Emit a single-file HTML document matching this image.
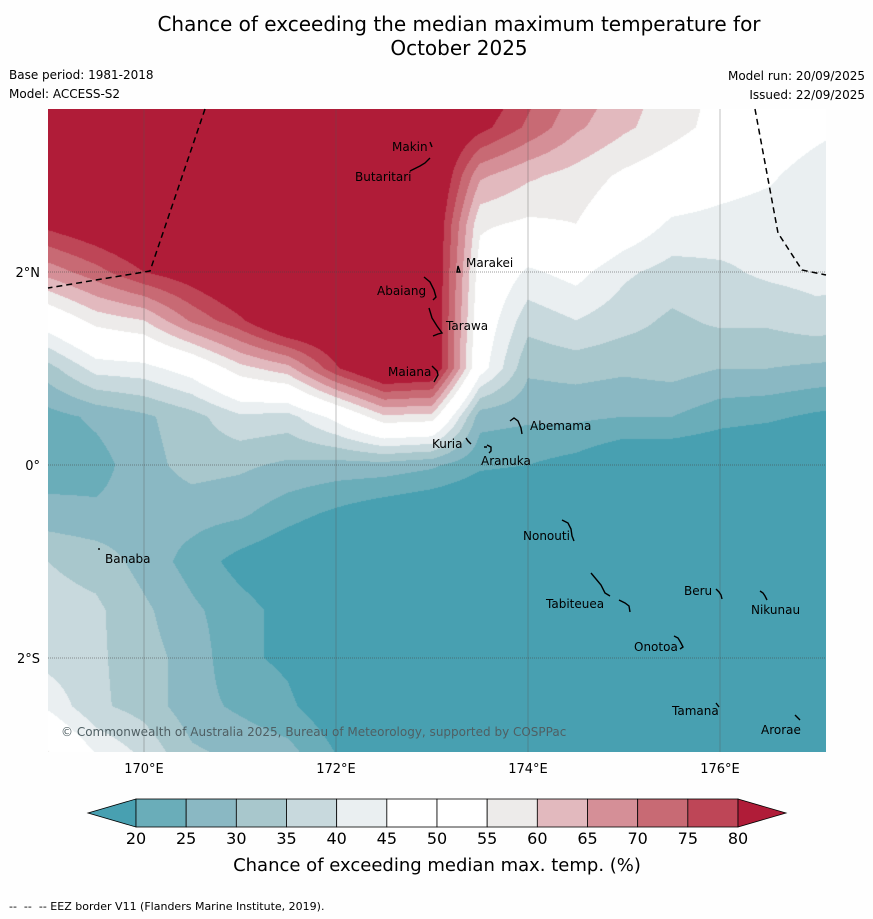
<!DOCTYPE html>
<html><head><meta charset="utf-8">
<style>
body{margin:0;background:#fefefe;width:873px;height:919px;overflow:hidden;font-family:"DejaVu Sans","Liberation Sans",sans-serif;position:relative}
.t{position:absolute;white-space:nowrap;color:#000}
#map{position:absolute;left:48px;top:109px;width:778px;height:643px}
#ov{position:absolute;left:0;top:0}
</style></head><body>
<div class="t" style="left:0;width:918px;text-align:center;top:12px;font-size:20px;line-height:24px">Chance of exceeding the median maximum temperature for<br>October 2025</div>
<div class="t" style="left:9px;top:68px;font-size:12px">Base period: 1981-2018</div>
<div class="t" style="left:9px;top:87px;font-size:12px">Model: ACCESS-S2</div>
<div class="t" style="right:8px;top:69px;font-size:12px">Model run: 20/09/2025</div>
<div class="t" style="right:8px;top:88px;font-size:12px">Issued: 22/09/2025</div>
<canvas id="map" width="778" height="643"></canvas>
<svg id="ov" width="873" height="919"></svg>
<div class="t" style="left:9px;top:900px;font-size:11px">--&nbsp; --&nbsp; -- EEZ border V11 (Flanders Marine Institute, 2019).</div>
<script>
const lons=[169,169.5,170,170.5,171,171.5,172,172.5,173,173.5,174,174.5,175,175.5,176,176.5,177,177.5];
const lats=[4,3.5,3,2.5,2,1.5,1,0.5,0,-0.5,-1,-1.5,-2,-2.5,-3];
const rowN40=[90,90,90,90,90,90,90,90,90,88,78,70,63,58,54,52,49,46];
const rowN35=[90,90,90,90,90,90,90,90,90,82,74,66,61,57,53,50,47,44];
const rowN30=[90,90,90,90,90,90,90,90,90,66,61,58,54,51,48,46,42,39];
const rowN25=[82,86,90,90,90,90,90,90,88,56,54,55,50,44,43,42,42,42];
const rowN20=[67,73,80,84,90,90,90,90,88,52,44,47,41,38,39,41,42,42];
const rowN15=[49,57,60,71,79,90,90,90,88,50,37,40,37,34,36,36,38,37];
const rowN10=[33,42,43,48,58,63,79,90,88,48,31,32,31,32,30,30,29,28];
const rowN05=[23,26,29,33,39,38,47,59,58,27,26,26,25,25,22,21,19,18];
const rowEq=[22,23,28,32,31,29,28,28,26,21,20,18,14,14,14,13,12,12];
const rowS05=[27,26,27,27,26,22,19,16,14,13,12,12,12,12,12,12,12,12];
const rowS10=[35,33,28,23,18,15,12,12,12,12,12,12,12,12,12,12,12,12];
const rowS15=[37,36,31,26,22,18,12,12,12,12,12,12,12,12,12,12,12,12];
const rowS20=[38,36,32,28,21,19,14,12,12,12,12,12,12,12,12,12,12,12];
const rowS25=[44,36,33,27,24,21,16,12,12,12,12,12,12,12,12,12,12,12];
const rowS30=[56,45,39,31,29,27,20,13,12,12,12,12,12,12,12,12,12,12];
const grid=[rowN40,rowN35,rowN30,rowN25,rowN20,rowN15,rowN10,rowN05,rowEq,rowS05,rowS10,rowS15,rowS20,rowS25,rowS30];
const levels=[20,25,30,35,40,45,50,55,60,65,70,75,80];
const bandColors=["#48a0b1","#6aadb9","#8ab8c3","#a8c7cc","#c8d9dd","#eaeff1","#ffffff","#ffffff","#edebea","#e2b9be","#d58f97","#c86a74","#be4657","#b01c38"];
const lonTicks=[170,172,174,176];
const latTicks=[2,0,-2];
const latTickLabels=["2°N","0°","2°S"];
const islands=["Makin","Butaritari","Marakei","Abaiang","Tarawa","Maiana","Abemama","Kuria","Aranuka","Banaba","Nonouti","Beru","Tabiteuea","Nikunau","Onotoa","Tamana","Arorae"];

function xOf(lon){return 144+(lon-170)*96;}
function yOf(lat){return 465-lat*96.5;}
function hexRgb(h){return [parseInt(h.substr(1,2),16),parseInt(h.substr(3,2),16),parseInt(h.substr(5,2),16)];}
const rgbs=bandColors.map(hexRgb);
function valueAt(lon,lat){
  let fi=(lon-lons[0])/(lons[1]-lons[0]), fj=(lats[0]-lat)/(lats[0]-lats[1]);
  fi=Math.max(0,Math.min(lons.length-1.0001,fi)); fj=Math.max(0,Math.min(lats.length-1.0001,fj));
  const i=Math.floor(fi),j=Math.floor(fj),a=fi-i,b=fj-j;
  return grid[j][i]*(1-a)*(1-b)+grid[j][i+1]*a*(1-b)+grid[j+1][i]*(1-a)*b+grid[j+1][i+1]*a*b;
}
function band(v){let k=0;while(k<levels.length&&v>=levels[k])k++;return k;}
const cv=document.getElementById('map'),ctx=cv.getContext('2d');
const img=ctx.createImageData(778,643);
for(let py=0;py<643;py++){const lat=(465-(py+109.5))/96.5;
 for(let px=0;px<778;px++){const lon=170+(px+48.5-144)/96;
  const c=rgbs[band(valueAt(lon,lat))];const o=(py*778+px)*4;
  img.data[o]=c[0];img.data[o+1]=c[1];img.data[o+2]=c[2];img.data[o+3]=255;}}
ctx.putImageData(img,0,0);

const NS="http://www.w3.org/2000/svg";const ov=document.getElementById('ov');
function mk(tag,at,parent){const e=document.createElementNS(NS,tag);for(const k in at)e.setAttribute(k,at[k]);(parent||ov).appendChild(e);return e;}
lonTicks.forEach(function(l){
 const g=mk('line',{x1:xOf(l),x2:xOf(l),y1:109,y2:752,stroke:'#555',"stroke-width":0.6,"stroke-opacity":0.6});
 
 
 const t=mk('text',{x:xOf(l),y:773,"font-size":13,"text-anchor":"middle","font-family":"DejaVu Sans, Liberation Sans, sans-serif"});
 t.textContent=l+"°E";
 
 
});
latTicks.forEach(function(l,i){
 const g=mk('line',{x1:48,x2:826,y1:yOf(l),y2:yOf(l),stroke:'#444',"stroke-width":0.8,"stroke-dasharray":"1 1","stroke-opacity":0.7});
 
 
 const t=mk('text',{x:40,y:yOf(l)+5,"font-size":13,"text-anchor":"end","font-family":"DejaVu Sans, Liberation Sans, sans-serif"});
 t.textContent=latTickLabels[i];
 
 
});
const e1=mk('polyline',{points:"205,109 150,271 48,288",fill:"none",stroke:"#000","stroke-width":1.5,"stroke-dasharray":"6 4"});


const e2=mk('polyline',{points:"755,109 778,233 802,270 826,275",fill:"none",stroke:"#000","stroke-width":1.5,"stroke-dasharray":"6 4"});


const shapes={"Makin":"M430,142 l2,5","Butaritari":"M410,171 l6,-3 l4,-2 l5,-3 l5,-5","Marakei":"M458,266 l2,6 l-3,0 z","Abaiang":"M424,277 l6,5 l4,8 l2,7 l-3,3","Tarawa":"M429,308 l3,10 l5,8 l5,7 l-4,1 l-5,2","Maiana":"M432,366 l5,5 l1,4 l-4,7","Abemama":"M510,421 l4,-3 l4,3 l3,7 l1,6","Kuria":"M466,438 l2,3 l3,3","Aranuka":"M484,447 l3,0 M487,445 l4,2 l0,4 l-2,2","Banaba":"M98,549 l2,0","Nonouti":"M562,520 l6,3 l3,6 l1,7 l2,5","Beru":"M716,589 l3,3 l2,3 l1,4","Tabiteuea":"M591,573 l5,6 l5,6 l4,8 l5,3 M619,600 l6,3 l4,3 l1,6","Nikunau":"M760,591 l3,2 l2,3 l2,4","Onotoa":"M674,636 l4,2 l3,5 l2,4 l-3,2","Tamana":"M716,703 l3,4","Arorae":"M795,715 l5,5"};
islands.forEach(function(n){
 const p=mk('path',{d:shapes[n],fill:"none",stroke:"#000","stroke-width":1.4});
 
 
});
const labelPos={"Makin":[392,151],"Butaritari":[355,181],"Marakei":[466,267],"Abaiang":[377,295],"Tarawa":[446,330],"Maiana":[388,376],"Abemama":[530,430],"Kuria":[432,448],"Aranuka":[481,465],"Banaba":[105,563],"Nonouti":[523,540],"Beru":[684,595],"Tabiteuea":[546,608],"Nikunau":[751,614],"Onotoa":[634,651],"Tamana":[672,715],"Arorae":[761,734]};
islands.forEach(function(n){
 const t=mk('text',{x:labelPos[n][0],y:labelPos[n][1],"font-size":12,"font-family":"DejaVu Sans, Liberation Sans, sans-serif",fill:"#000"});
 t.textContent=n;
 
 
});
const cp=mk('text',{x:61,y:736,"font-size":12,fill:"#4f5f63","font-family":"DejaVu Sans, Liberation Sans, sans-serif"});
cp.textContent="© Commonwealth of Australia 2025, Bureau of Meteorology, supported by COSPPac";


const cbX0=136,cbX1=738,cbY=799,cbH=28,seg=(cbX1-cbX0)/(levels.length-1);
const lt=mk('polygon',{points:cbX0+","+cbY+" 88,"+(cbY+cbH/2)+" "+cbX0+","+(cbY+cbH),fill:bandColors[0],stroke:"#000","stroke-width":0.8});


for(let k=0;k<levels.length-1;k++){
 const r=mk('rect',{x:cbX0+k*seg,y:cbY,width:seg,height:cbH,fill:bandColors[k+1],stroke:"#000","stroke-width":0.8});
 
 
}
const rt=mk('polygon',{points:cbX1+","+cbY+" 786,"+(cbY+cbH/2)+" "+cbX1+","+(cbY+cbH),fill:bandColors[13],stroke:"#000","stroke-width":0.8});


levels.forEach(function(l,k){
 const t=mk('text',{x:cbX0+k*seg,y:844,"font-size":16,"text-anchor":"middle","font-family":"DejaVu Sans, Liberation Sans, sans-serif"});
 t.textContent=l;
 
 
});
const ct=mk('text',{x:437,y:871,"font-size":18,"text-anchor":"middle","font-family":"DejaVu Sans, Liberation Sans, sans-serif"});
ct.textContent="Chance of exceeding median max. temp. (%)";


</script>
</body></html>
